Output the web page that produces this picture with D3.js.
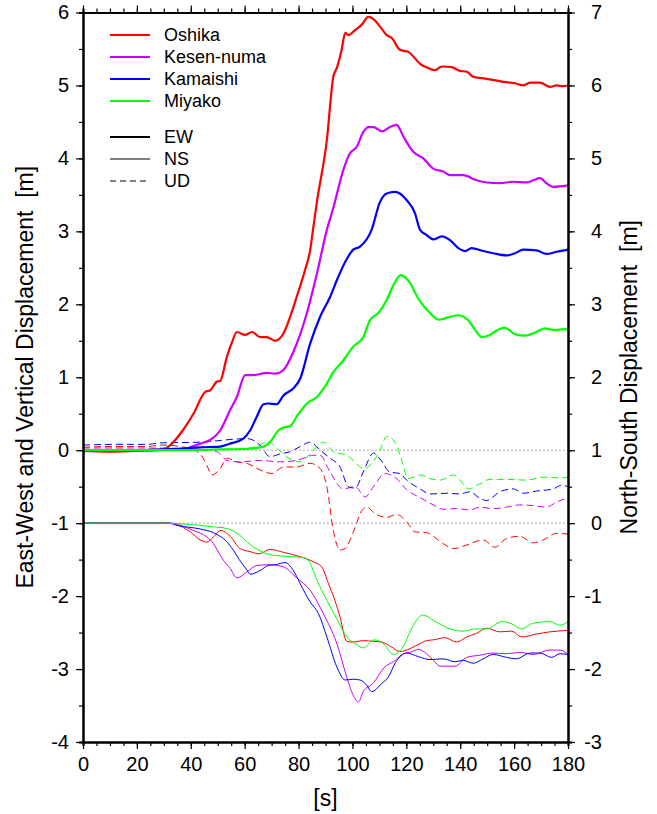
<!DOCTYPE html>
<html>
<head>
<meta charset="utf-8">
<script src="https://cdn.jsdelivr.net/npm/d3@7"></script>
<style>
  body { margin: 0; background: #fff; }
  svg { display: block; font-family: "Liberation Sans", Arial, Helvetica, sans-serif; }
</style>
</head>
<body>
<svg id="chart" width="657" height="814"></svg>
<script>
// time [s], displacement [m]
const oshikaEW = [[0,-0.01],[10,-0.02],[20,-0.01],[28,0],[31,0.03],[34,0.13],[37,0.27],[41,0.5],[45.4,0.8],[47.2,0.82],[49.7,0.94],[50.9,0.95],[53.4,1.28],[55.2,1.47],[57.1,1.62],[60.2,1.58],[62.7,1.62],[65.7,1.55],[68.2,1.55],[71.3,1.5],[74.4,1.6],[76.9,1.83],[79.3,2.1],[82.4,2.47],[84.3,2.74],[85.5,3.06],[86.8,3.4],[90.5,4.25],[92.9,5.12],[94.2,5.24],[96,5.49],[97.3,5.72],[98.5,5.69],[101,5.76],[103.4,5.83],[105.9,5.94],[107.8,5.91],[110.2,5.81],[112.7,5.69],[114.6,5.65],[117.6,5.49],[120.7,5.46],[125.7,5.28],[128.1,5.24],[130.6,5.21],[133.1,5.26],[136.8,5.25],[139.9,5.2],[142.4,5.19],[144.8,5.12],[148,5.1],[151.7,5.08],[156,5.05],[160.3,5.03],[163.4,5.0],[165.9,5.04],[169.6,5.04],[173.3,4.98],[175.8,5.0],[178.2,4.99],[180,5.0]];
const kesenEW = [[0,0],[20,0],[30,0.01],[37.3,0.02],[43.5,0.09],[47.2,0.14],[50.9,0.27],[54.6,0.55],[57.1,0.73],[60.2,1.03],[63.3,1.03],[68.2,1.06],[71.3,1.05],[74.4,1.1],[78.1,1.35],[83.1,1.88],[86.8,2.42],[90.5,3.02],[92.9,3.32],[96.6,3.84],[99.1,4.07],[101.6,4.16],[104,4.36],[105.9,4.43],[107.8,4.43],[110.9,4.37],[113.9,4.43],[116.4,4.46],[118.9,4.3],[122.6,4.09],[126.3,4.0],[130,3.86],[133.7,3.82],[136.2,3.77],[141.1,3.77],[146.1,3.7],[149.8,3.67],[154.7,3.66],[159.7,3.68],[164.6,3.67],[167.1,3.7],[169.6,3.73],[172,3.66],[174.5,3.61],[180,3.63]];
const kamaishiEW = [[0,0],[20,0],[35,0.02],[43.5,0.04],[50.9,0.05],[54.6,0.09],[59.5,0.16],[62,0.27],[64.5,0.46],[67,0.63],[68.8,0.64],[71.9,0.63],[74.4,0.75],[78.1,0.85],[80.6,0.98],[84.3,1.46],[88,1.83],[91.7,2.1],[94.2,2.33],[97.3,2.58],[100.3,2.75],[102.8,2.79],[107.1,3.02],[110.2,3.4],[112.7,3.52],[115.8,3.54],[120.1,3.43],[123.2,3.25],[125.1,3.02],[127.5,2.95],[130,2.89],[133.1,2.93],[136.2,2.88],[139.3,2.77],[141.8,2.73],[144.2,2.77],[148.5,2.73],[152.2,2.7],[157.2,2.67],[160.3,2.7],[163.4,2.75],[168.3,2.74],[172,2.69],[175.8,2.72],[180,2.75]];
const miyakoEW = [[0,0],[30,0],[50,0.01],[62,0.02],[67,0.05],[69.4,0.11],[72.5,0.27],[74.4,0.31],[76.9,0.33],[79.3,0.46],[83.1,0.64],[86.8,0.73],[89.8,0.87],[92.9,1.07],[96.6,1.23],[100.3,1.42],[104,1.55],[106.5,1.78],[109.6,1.88],[112.7,2.06],[115.2,2.26],[117.9,2.4],[121.4,2.29],[124.4,2.08],[128.8,1.88],[131.9,1.79],[135.6,1.82],[139.3,1.85],[143,1.78],[145.5,1.65],[148,1.55],[151,1.58],[153.5,1.64],[156.6,1.68],[160.3,1.59],[164,1.57],[167.7,1.61],[171.4,1.67],[174.5,1.65],[180,1.66]];

const oshikaUD = [[0,0.04],[10,0.05],[18.8,0.05],[23.7,0.05],[28.7,0.07],[31.1,0.07],[36,0.05],[39.8,0.02],[43.5,-0.05],[46,-0.21],[47.8,-0.34],[50.9,-0.25],[53.4,-0.11],[57.1,-0.16],[60.8,-0.18],[65.7,-0.27],[70.1,-0.32],[74.4,-0.23],[79.3,-0.23],[84.3,-0.18],[88,-0.25],[90.5,-0.5],[92.9,-1.1],[95.4,-1.37],[97.9,-1.33],[99.1,-1.23],[101.6,-1.0],[102.8,-0.87],[105.3,-0.78],[108.4,-0.87],[112.7,-0.92],[116.4,-0.88],[120.1,-0.98],[123.2,-1.12],[127.5,-1.13],[130,-1.18],[133.7,-1.28],[137.4,-1.35],[142.4,-1.3],[148.5,-1.23],[152.9,-1.33],[157.2,-1.21],[162.1,-1.18],[167.1,-1.27],[170.8,-1.23],[175.8,-1.14],[180,-1.15]];
const kesenUD = [[0,0.03],[20,0.03],[40,0.02],[49.7,-0.02],[53.4,-0.14],[58.3,-0.16],[65.7,-0.14],[73.2,-0.16],[79.3,-0.14],[85.5,-0.07],[88,-0.07],[91.7,-0.3],[96.6,-0.53],[101,-0.5],[104.7,-0.64],[107.8,-0.5],[112.1,-0.32],[116.4,-0.39],[120.1,-0.54],[125.1,-0.65],[130,-0.75],[133.7,-0.81],[138.7,-0.8],[143.6,-0.82],[147.3,-0.78],[152.2,-0.8],[157.2,-0.78],[162.1,-0.75],[167.1,-0.76],[172,-0.78],[175.8,-0.71],[180,-0.65]];
const kamaishiUD = [[0,0.07],[11.3,0.08],[23.7,0.08],[28.7,0.1],[43.5,0.11],[55.8,0.15],[60.8,0.16],[65.7,0.07],[69.4,-0.09],[73.2,-0.05],[76.9,-0.02],[80.6,0.05],[84.3,0.11],[88,0],[91.7,-0.11],[95.4,-0.23],[98.5,-0.5],[101,-0.52],[104,-0.3],[107.8,-0.04],[110.2,-0.12],[113.9,-0.3],[117.6,-0.32],[120.1,-0.41],[125.1,-0.53],[128.8,-0.6],[135,-0.59],[139.9,-0.6],[143.6,-0.57],[147.3,-0.66],[149.8,-0.69],[154.7,-0.57],[159.7,-0.53],[163.4,-0.59],[168.3,-0.56],[174.5,-0.53],[177.6,-0.48],[180,-0.5]];
const miyakoUD = [[0,0],[30,0],[50,0.01],[62,0.03],[66,0.08],[68.5,0.12],[70.7,0.07],[75.6,-0.09],[80.6,-0.16],[84.3,-0.05],[89.2,0.11],[92.9,-0.02],[97.9,-0.07],[100.3,-0.14],[104,-0.25],[107.8,-0.15],[110.2,0],[112.7,0.19],[115.8,0.11],[118.3,-0.14],[120.7,-0.39],[125.1,-0.34],[128.8,-0.39],[132.5,-0.41],[137.5,-0.34],[139.9,-0.41],[143,-0.53],[147.3,-0.46],[151,-0.4],[157.2,-0.4],[164.6,-0.41],[170.8,-0.37],[178.2,-0.38],[180,-0.37]];

// north-south, on the right-hand axis
const oshikaNS = [[0,0],[20,0],[32,0],[34.8,-0.02],[39.8,-0.12],[43.5,-0.23],[46,-0.26],[48.4,-0.19],[51.2,-0.1],[54.6,-0.18],[58.3,-0.35],[62,-0.39],[65.4,-0.42],[69.4,-0.36],[74.4,-0.4],[80.6,-0.46],[85.5,-0.53],[88.6,-0.6],[91.1,-0.83],[93.5,-1.06],[95.4,-1.29],[97.9,-1.62],[100.3,-1.63],[104,-1.61],[107.8,-1.62],[110.9,-1.63],[114.6,-1.7],[117.6,-1.76],[121.4,-1.72],[125.1,-1.65],[127.5,-1.61],[130,-1.6],[134.3,-1.57],[138.7,-1.63],[142.4,-1.56],[146.1,-1.51],[149.8,-1.44],[154.7,-1.49],[159.1,-1.48],[162.8,-1.56],[168.3,-1.52],[173.3,-1.49],[180,-1.47]];
const kesenNS = [[0,0],[20,0],[33,0],[36.1,-0.03],[41,-0.1],[46,-0.19],[48.4,-0.28],[50,-0.38],[52.1,-0.51],[54.6,-0.62],[57.1,-0.75],[60.8,-0.67],[64.5,-0.58],[69.4,-0.57],[74.4,-0.6],[79.3,-0.75],[84.3,-0.92],[89.2,-1.24],[94.2,-1.65],[97.9,-2.11],[99.7,-2.31],[102.2,-2.45],[104,-2.31],[107.8,-2.19],[111.8,-1.98],[115.5,-1.89],[118.9,-1.79],[121.4,-1.77],[124.5,-1.73],[127.5,-1.79],[130,-1.88],[132.5,-1.96],[138.1,-1.96],[142.4,-1.84],[147.3,-1.81],[152.2,-1.78],[157.2,-1.79],[162.1,-1.77],[167.1,-1.8],[173.3,-1.74],[177,-1.74],[180,-1.8]];
const kamaishiNS = [[0,0],[20,0],[32,0],[34.8,-0.03],[43.5,-0.08],[48.4,-0.13],[50,-0.16],[53,-0.24],[55.8,-0.37],[58,-0.5],[60.8,-0.64],[62,-0.7],[65.7,-0.65],[68.8,-0.58],[71.3,-0.57],[75,-0.54],[78.1,-0.65],[80.6,-0.83],[84.3,-1.08],[87.4,-1.24],[90.5,-1.56],[94.2,-1.97],[97.3,-2.15],[100.3,-2.14],[102.8,-2.15],[105.3,-2.22],[107.1,-2.31],[110.8,-2.2],[113.3,-2.11],[116,-1.91],[120.1,-1.78],[124.5,-1.83],[128.8,-1.87],[133.7,-1.86],[138.1,-1.9],[141.1,-1.88],[144.8,-1.92],[148.5,-1.86],[152.2,-1.8],[157.2,-1.84],[160.9,-1.86],[165.9,-1.78],[169.6,-1.78],[173.9,-1.84],[177,-1.79],[180,-1.8]];
const miyakoNS = [[0,0],[30,0],[36.1,-0.01],[43.5,-0.03],[48.4,-0.05],[54,-0.08],[58.3,-0.17],[61,-0.26],[65.7,-0.38],[70.7,-0.44],[78.1,-0.46],[81.8,-0.47],[84,-0.53],[86.8,-0.78],[90.5,-1.06],[94.2,-1.31],[97.9,-1.56],[101,-1.65],[104,-1.71],[108,-1.6],[111.2,-1.64],[115.2,-1.8],[118.5,-1.71],[122.3,-1.42],[126,-1.26],[131.3,-1.36],[136.2,-1.45],[141.1,-1.48],[145.5,-1.45],[149.8,-1.45],[155.4,-1.35],[159.1,-1.38],[162.8,-1.45],[167.1,-1.37],[173.3,-1.35],[177,-1.4],[180,-1.35]];

const stations = ["Oshika", "Kesen-numa", "Kamaishi", "Miyako"];
const colors = ["#ff0000", "#cc00ff", "#0000ff", "#00ff00"];
const components = ["EW", "NS", "UD"];

const xTicks = d3.range(0, 181, 20);
const leftTicks = d3.range(-4, 7, 1);
const rightTicks = d3.range(-3, 8, 1);

const svg = d3.select("#chart");
const mLeft = 83, mRight = 568, mTop = 12.5, mBottom = 742;

const x = d3.scaleLinear().domain([0, 180]).range([mLeft, mRight]);
const yL = d3.scaleLinear().domain([-4, 6]).range([mBottom, mTop]);
const yR = d3.scaleLinear().domain([-3, 7]).range([mBottom, mTop]);

// zero lines of both axes
svg.append("g").selectAll("line")
  .data([0, -1])
  .enter().append("line")
  .attr("x1", mLeft).attr("x2", mRight)
  .attr("y1", d => yL(d)).attr("y2", d => yL(d))
  .attr("stroke", "#aaa").attr("stroke-width", 1).attr("stroke-dasharray", "2,2");

const lineL = d3.line().x(d => x(d[0])).y(d => yL(d[1])).curve(d3.curveMonotoneX);
const lineR = d3.line().x(d => x(d[0])).y(d => yR(d[1])).curve(d3.curveMonotoneX);

const ud = [oshikaUD, kesenUD, kamaishiUD, miyakoUD];
const ns = [oshikaNS, kesenNS, kamaishiNS, miyakoNS];
const ew = [oshikaEW, kesenEW, kamaishiEW, miyakoEW];

const plot = svg.append("g");
ud.forEach((s, i) => plot.append("path").attr("d", lineL(s)).attr("fill", "none")
  .attr("stroke", colors[i]).attr("stroke-width", 1).attr("stroke-dasharray", "7,4"));
ns.forEach((s, i) => plot.append("path").attr("d", lineR(s)).attr("fill", "none")
  .attr("stroke", colors[i]).attr("stroke-width", 1));
ew.forEach((s, i) => plot.append("path").attr("d", lineL(s)).attr("fill", "none")
  .attr("stroke", colors[i]).attr("stroke-width", 2.2));

// axes: major + minor ticks all round
function styleAxis(g) {
  g.selectAll(".domain").attr("stroke-width", 2);
  g.selectAll(".tick line").attr("stroke-width", 1.2);
  g.selectAll("text").attr("font-size", 20).attr("fill", "#000");
}
svg.append("g").attr("transform", `translate(0,${mBottom})`)
  .call(d3.axisBottom(x).tickValues(d3.range(0, 181, 5)).tickSize(4).tickFormat(""))
  .call(styleAxis);
svg.append("g").attr("transform", `translate(0,${mBottom})`)
  .call(d3.axisBottom(x).tickValues(xTicks).tickSize(7).tickPadding(8).tickSizeOuter(0))
  .call(styleAxis);
svg.append("g").attr("transform", `translate(0,${mTop})`)
  .call(d3.axisTop(x).tickValues(d3.range(0, 181, 5)).tickSize(4).tickFormat(""))
  .call(styleAxis);
svg.append("g").attr("transform", `translate(0,${mTop})`)
  .call(d3.axisTop(x).tickValues(xTicks).tickSize(7).tickFormat("").tickSizeOuter(0))
  .call(styleAxis);
svg.append("g").attr("transform", `translate(${mLeft},0)`)
  .call(d3.axisLeft(yL).tickValues(d3.range(-4, 6.01, 0.5)).tickSize(4).tickFormat(""))
  .call(styleAxis);
svg.append("g").attr("transform", `translate(${mLeft},0)`)
  .call(d3.axisLeft(yL).tickValues(leftTicks).tickSize(7).tickPadding(7).tickSizeOuter(0).tickFormat(d3.format("d")))
  .call(styleAxis);
svg.append("g").attr("transform", `translate(${mRight},0)`)
  .call(d3.axisRight(yR).tickValues(d3.range(-3, 7.01, 0.5)).tickSize(4).tickFormat(""))
  .call(styleAxis);
const rAxis = svg.append("g").attr("transform", `translate(${mRight},0)`)
  .call(d3.axisRight(yR).tickValues(rightTicks).tickSize(7).tickSizeOuter(0).tickFormat(d3.format("d")))
  .call(styleAxis);
rAxis.selectAll("text").attr("text-anchor", "end").attr("x", 34);
svg.selectAll(".tick text").text(function () { return this.textContent.replace("\u2212", "-"); });

// axis titles
svg.append("text").attr("transform", `translate(33,${(mTop + mBottom) / 2}) rotate(-90)`)
  .attr("text-anchor", "middle").attr("font-size", 23).style("white-space", "pre")
  .text("East-West and Vertical Displacement  [m]");
svg.append("text").attr("transform", `translate(637,${(mTop + mBottom) / 2}) rotate(-90)`)
  .attr("text-anchor", "middle").attr("font-size", 23).style("white-space", "pre")
  .text("North-South Displacement  [m]");
svg.append("text").attr("x", (mLeft + mRight) / 2).attr("y", 806)
  .attr("text-anchor", "middle").attr("font-size", 23).text("[s]");

// legend
const legend = svg.append("g");
stations.forEach((s, i) => {
  const yy = 35 + i * 22;
  legend.append("line").attr("x1", 110).attr("x2", 150).attr("y1", yy).attr("y2", yy)
    .attr("stroke", colors[i]).attr("stroke-width", 2);
  legend.append("text").attr("x", 164).attr("y", yy + 6).attr("font-size", 18).text(s);
});
components.forEach((c, i) => {
  const yy = 137 + i * 22;
  legend.append("line").attr("x1", 110).attr("x2", 150).attr("y1", yy).attr("y2", yy)
    .attr("stroke", "#000").attr("stroke-width", c === "EW" ? 2 : 1)
    .attr("stroke-dasharray", c === "UD" ? "6,4" : null);
  legend.append("text").attr("x", 164).attr("y", yy + 6).attr("font-size", 18).text(c);
});
</script>
</body>
</html>
